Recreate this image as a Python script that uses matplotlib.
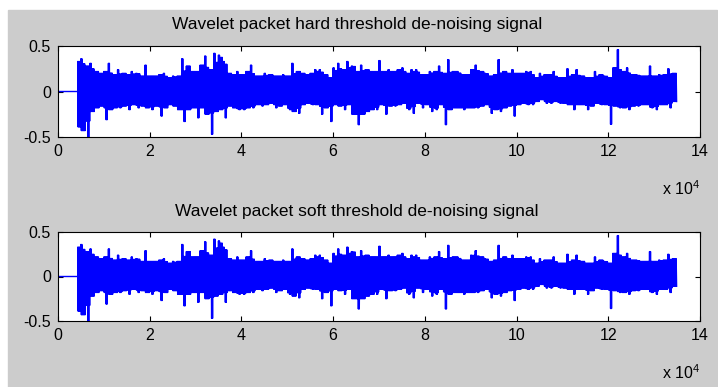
#!/usr/bin/env python
# -*- coding: utf-8 -*-
"""
Wavelet packet de-noising — hard vs soft threshold traces (MATLAB-style figure).
The trace is far too dense to read sample by sample, so each 1000-sample bin keeps
the max / min read off the picture; the bin is drawn as a dense zig-zag that hits
its own extremes on a couple of swings and the neighbours' level on the rest.
"""
import numpy as np
import matplotlib
matplotlib.use("Agg")
import matplotlib.pyplot as plt
from matplotlib.patches import Rectangle

TITLES = ["Wavelet packet hard threshold de-noising signal",
          "Wavelet packet soft threshold de-noising signal"]

SIGNAL_START = 4300      # flat zero before this sample
BIN_START = 4000         # first envelope bin
BIN_WIDTH = 1000
STROKES = 5              # max/min swings drawn per bin

# per-bin max / min (bins 4000..135000)
env_top = [0.33, 0.36, 0.28, 0.31, 0.22, 0.20, 0.22, 0.31, 0.185, 0.24,
           0.20, 0.185, 0.22, 0.20, 0.17, 0.29, 0.17, 0.17, 0.185, 0.20,
           0.15, 0.17, 0.17, 0.36, 0.28, 0.22, 0.22, 0.29, 0.39, 0.24,
           0.42, 0.40, 0.33, 0.20, 0.185, 0.22, 0.185, 0.22, 0.29, 0.17,
           0.17, 0.20, 0.185,
           0.17, 0.17, 0.185, 0.17, 0.31, 0.22, 0.20, 0.185, 0.20, 0.24,
           0.24, 0.185, 0.15, 0.26, 0.31, 0.24, 0.33, 0.28, 0.22, 0.29,
           0.24, 0.22, 0.22, 0.34, 0.22, 0.24, 0.22, 0.24, 0.26, 0.20,
           0.24, 0.24, 0.185, 0.185, 0.22, 0.22, 0.28, 0.20, 0.35, 0.22,
           0.22, 0.185, 0.185, 0.24, 0.29, 0.22, 0.20,
           0.17, 0.185, 0.35, 0.22, 0.20, 0.24, 0.20, 0.20, 0.22, 0.22,
           0.15, 0.20, 0.185, 0.185, 0.22, 0.15, 0.15, 0.25, 0.185, 0.24,
           0.17, 0.15, 0.15, 0.22, 0.185, 0.17, 0.15, 0.26, 0.46, 0.22,
           0.26, 0.185, 0.185, 0.17, 0.17, 0.28, 0.17, 0.185, 0.185, 0.25, 0.20]
env_bot = [-0.39, -0.43, -0.50, -0.22, -0.18, -0.16, -0.31, -0.20, -0.18, -0.18,
           -0.16, -0.20, -0.145, -0.18, -0.16, -0.18, -0.20, -0.16, -0.27, -0.18,
           -0.145, -0.16, -0.20, -0.33, -0.20, -0.18, -0.29, -0.18, -0.25, -0.47,
           -0.22, -0.20, -0.29, -0.16, -0.18, -0.20, -0.20, -0.18, -0.18, -0.145,
           -0.16, -0.145, -0.13,
           -0.18, -0.16, -0.145, -0.20, -0.22, -0.24, -0.145, -0.13, -0.145, -0.145,
           -0.25, -0.18, -0.33, -0.145, -0.16, -0.20, -0.145, -0.25, -0.365, -0.25,
           -0.22, -0.20, -0.20, -0.145, -0.25, -0.16, -0.16, -0.145, -0.13, -0.20,
           -0.24, -0.13, -0.18, -0.145, -0.22, -0.20, -0.145, -0.365, -0.20, -0.18,
           -0.18, -0.20, -0.18, -0.18, -0.18, -0.16, -0.145,
           -0.24, -0.20, -0.22, -0.18, -0.16, -0.27, -0.145, -0.13, -0.145, -0.145,
           -0.11, -0.09, -0.13, -0.13, -0.11, -0.13, -0.13, -0.145, -0.20, -0.145,
           -0.145, -0.20, -0.16, -0.13, -0.145, -0.145, -0.36, -0.16, -0.18, -0.18,
           -0.20, -0.16, -0.16, -0.145, -0.145, -0.18, -0.20, -0.145, -0.145, -0.18, -0.11]

# soft-threshold trace is indistinguishable from the hard one at this resolution
soft_top, soft_bot = env_top, env_bot

XTICKS = [0, 2e4, 4e4, 6e4, 8e4, 10e4, 12e4, 14e4]
XTICKLABELS = ["0", "2", "4", "6", "8", "10", "12", "14"]
YTICKS = [-0.5, 0, 0.5]
YTICKLABELS = ["-0.5", "0", "0.5"]

plt.rcParams["font.family"] = ["Liberation Sans", "DejaVu Sans"]
plt.rcParams["mathtext.fontset"] = "custom"
plt.rcParams["mathtext.rm"] = "Liberation Sans"


def trace(top, bot):
    # own extremes on two swings, neighbours' mean level elsewhere in the bin
    n = len(top)
    xs, ys = [0, SIGNAL_START], [0.0, 0.0]
    step = BIN_WIDTH / (2 * STROKES)
    for i in range(n):
        a, c = max(0, i - 1), min(n - 1, i + 1)
        core_t = min(top[i], 0.5 * (top[a] + top[c]))
        core_b = max(bot[i], 0.5 * (bot[a] + bot[c]))
        x0 = max(BIN_START + i * BIN_WIDTH, SIGNAL_START)
        x1 = BIN_START + (i + 1) * BIN_WIDTH
        for j in range(2 * STROKES):
            x = x0 + j * step
            if x > x1:
                break
            xs.append(x)
            if j in (0, 2):
                ys.append(top[i])
            elif j in (5, 7):
                ys.append(bot[i])
            else:
                ys.append(core_t if j % 2 == 0 else core_b)
    return xs, ys


def panel(fig, rect, title, top, bot, title_y, exp_y):
    ax = fig.add_axes(rect)
    xs, ys = trace(top, bot)
    ax.plot(xs, ys, color="#0000ff", lw=1.0)
    ax.set_xlim(0, 14e4); ax.set_ylim(-0.5, 0.5)
    ax.set_xticks(XTICKS); ax.set_xticklabels(XTICKLABELS)
    ax.set_yticks(YTICKS); ax.set_yticklabels(YTICKLABELS)
    ax.tick_params(direction="in", top=True, right=True, length=3.5,
                   width=0.8, labelsize=11.5, pad=5)
    for s in ax.spines.values():
        s.set_linewidth(0.8)
    ax.text(0.466, title_y, title, transform=ax.transAxes, ha="center",
            va="baseline", fontsize=12.5)
    ax.text(1.0, exp_y, r"x 10$^{4}$", transform=ax.transAxes, ha="right",
            va="baseline", fontsize=11.5)
    return ax


def main():
    fig = plt.figure(figsize=(7.18, 3.87), dpi=100, facecolor="white")
    fig.patches.append(Rectangle((8 / 718, 0), 709 / 718, 377 / 387,
                                 transform=fig.transFigure, color="#cccccc", zorder=-1))
    panel(fig, [58 / 718, 250 / 387, 642 / 718, 91 / 387], TITLES[0],
          env_top, env_bot, 1.187, -0.637)
    panel(fig, [58 / 718, 66 / 387, 642 / 718, 89 / 387], TITLES[1],
          soft_top, soft_bot, 1.18, -0.652)
    fig.savefig("out.png", dpi=100, facecolor=fig.get_facecolor())
    plt.close(fig)


if __name__ == "__main__":
    main()
